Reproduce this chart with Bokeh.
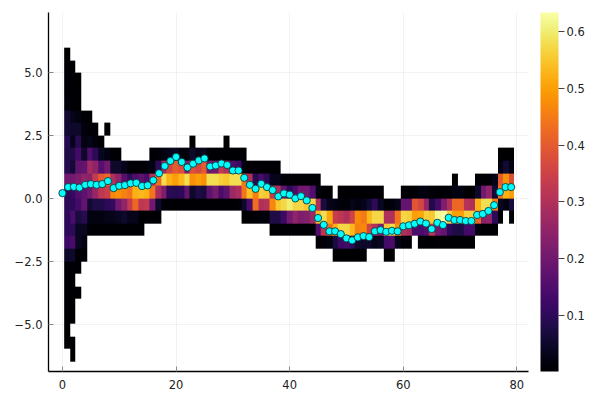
import numpy as np
from bokeh.plotting import figure
from bokeh.models import LinearColorMapper, ColorBar, FixedTicker, Span, Range1d, BasicTickFormatter
from bokeh.palettes import Inferno256
from bokeh.embed import file_html
from bokeh.resources import INLINE

# markers at x = 0..79
marker_y = [0.21,0.45,0.46,0.43,0.54,0.57,0.54,0.57,0.69,0.41,0.50,0.53,0.60,0.62,0.49,0.52,0.72,1.00,1.29,1.49,
            1.65,1.45,1.23,1.38,1.51,1.59,1.27,1.31,1.39,1.33,1.11,1.11,0.82,0.54,0.38,0.58,0.45,0.33,0.08,0.20,
            0.15,0.00,0.09,-0.08,-0.38,-0.78,-1.05,-1.31,-1.31,-1.42,-1.59,-1.67,-1.55,-1.50,-1.54,-1.31,-1.26,-1.33,-1.29,-1.31,
            -1.11,-1.07,-1.01,-0.92,-1.00,-1.22,-0.97,-1.06,-0.77,-0.86,-0.86,-0.90,-0.90,-0.66,-0.62,-0.50,-0.27,0.25,0.45,0.45]

# density rows: (lower edge of the bin, [(first column, values), ...])
r_p55 = [(1,[.002])]
r_p50 = [(1,[.005,.003])]
r_p45 = [(1,[.01,.004,.003])]
r_p40 = [(1,[.005,.004,.003])]
r_p35 = [(1,[.015,.005,.003])]
r_p30 = [(1,[.06,.03,.02,.005,.004])]
r_p25 = [(1,[.06,.05,.05,.015,.01,.008]),(8,[.003])]
r_p20 = [(1,[.09,.03,.09,.02,.03,.015,.006]),(23,[.003]),(29,[.003])]
r_p15 = [(1,[.08,.08,.13,.05,.15,.10,.04,.02,.004,.004]),
         (16,[.004,.01,.02,.03,.04,.015,.015,.05,.03,.04,.006,.006,.006,.006,.006,.006,.006]),
         (77,[.003,.003,.003])]
r_p10 = [(1,[.09,.06,.17,.18,.28,.25,.16,.20,.05,.05,.03,.01,.01,.01,.015,.02,.10,.28,.36,.40,.38,.22,.38,.36,.40,
             .20,.20,.33,.30,.14,.12,.02,.005,.005,.005,.005,.005,.005]),
         (77,[.02,.06,.02])]
r_p05 = [(1,[.20,.20,.22,.25,.24,.33,.40,.42,.30,.25,.16,.10,.15,.17,.14,.30,.43,.58,.52,.50,.53,.58,.48,.50,.48,
             .58,.58,.56,.55,.58,.58,.44,.30,.09,.14,.10,.03,.03,.01,.008,.004,.004,.004,.004,.004]),
         (69,[.003]),
         (73,[.005,.005,.005,.03,.40,.48,.38])]
r_p00 = [(1,[.10,.11,.15,.17,.20,.26,.32,.34,.47,.48,.46,.44,.52,.53,.52,.44,.29,.22,.10,.09,.10,.18,.05,.08,.07,
             .17,.21,.14,.17,.27,.29,.44,.54,.46,.56,.55,.33,.30,.18,.10,.14,.20,.20,.15,.02,.005,.005]),
         (49,[.004,.004,.004,.006,.006,.006,.004,.004]),
         (60,[.005,.005,.005,.02,.02,.01,.006,.006,.005,.02,.02,.01,.005,.05,.20,.25,.06,.44,.52,.50])]
r_m05 = [(1,[.10,.10,.13,.18,.06,.08,.08,.10,.11,.20,.25,.33,.42,.32,.33,.20,.05,.01,.008,.004,.004,.004,.004,.004,.004,
             .004,.004,.004,.004,.004,.01,.05,.14,.43,.30,.31,.47,.55,.57,.60,.57,.57,.55,.57,.30,.07,.03,.02,.015,.01,
             .03,.02,.03,.06,.10,.04,.01,.015,.03,.18,.18,.39,.36,.26,.08,.13,.22,.30,.42,.42,.31,.30,.52,.58,.58,.46,.04,.02,.07])]
r_m10 = [(1,[.10,.14,.07,.09,.02,.02,.02,.03,.03,.04,.05,.03,.03,.005,.005,.005,.005]),
         (32,[.003,.003,.01,.012,.012,.08,.08,.12,.20,.25,.22,.23,.27,.53,.58,.51,.34,.32,.30,.35,.47,.45,.53,.57,.57,
              .30,.30,.44,.57,.56,.50,.51,.56,.55,.62,.63,.56,.50,.50,.56,.56,.42,.24,.25,.10,.004]),
         (79,[.004])]
r_m15 = [(1,[.10,.10,.04,.04,.005,.005,.005,.005,.005,.005,.005,.005,.005,.005]),
         (37,[.004,.004,.004,.004,.004,.004,.004,.004,.15,.32,.43,.52,.57,.57,.53,.46,.47,.35,.30,.22,.55,.58,.48,.30,.28,
              .14,.14,.16,.32,.20,.18,.10,.08,.08,.13,.13,.02,.005,.005,.005])]
r_m20 = [(1,[.12,.14,.04,.02]),
         (45,[.005,.01,.02,.07,.12,.13,.10,.05,.05,.05,.03,.04,.13,.14,.03,.01,.01]),
         (63,[.006,.006,.006,.008,.006,.006,.006,.006,.006,.006])]
r_m25 = [(1,[.05,.05,.005,.005]),(48,[.003,.003,.003,.003,.003,.003]),(57,[.003,.003])]
r_m30 = [(1,[.01,.01,.004])]
r_m35 = [(1,[.005,.004])]
r_m40 = [(1,[.004,.004,.003])]
r_m45 = [(1,[.004,.003])]
r_m50 = [(1,[.003,.003])]
r_m55 = [(1,[.003])]
r_m60 = [(1,[.003,.003])]
r_m65 = [(2,[.003])]

rows_top_down = [r_p55,r_p50,r_p45,r_p40,r_p35,r_p30,r_p25,r_p20,r_p15,r_p10,r_p05,r_p00,
                 r_m05,r_m10,r_m15,r_m20,r_m25,r_m30,r_m35,r_m40,r_m45,r_m50,r_m55,r_m60,r_m65]

y_bottom, y_top = -6.5, 6.0
x_left, x_right = 0.3, 79.5
n_cols = 79

grid = np.full((len(rows_top_down), n_cols), np.nan)
for i, row in enumerate(rows_top_down):
    for start, vals in row:
        grid[len(rows_top_down)-1-i, start-1:start-1+len(vals)] = vals

low, high = 0.0014, 0.6335
mapper = LinearColorMapper(palette=Inferno256, low=low, high=high, nan_color=(0, 0, 0, 0))

p = figure(output_backend="svg", toolbar_location=None,
           frame_width=480, frame_height=359,
           x_range=Range1d(-2.46, 82.05), y_range=Range1d(-6.89, 7.40),
           min_border_left=48, min_border_top=12, min_border_bottom=25, min_border_right=70,
           background_fill_color="white", border_fill_color="white")
p.outline_line_color = None

p.image(image=[grid], x=x_left, y=y_bottom, dw=x_right-x_left, dh=y_top-y_bottom, color_mapper=mapper)
p.scatter(list(range(len(marker_y))), marker_y, size=7.2, fill_color="#00ffff",
          line_color="#0d3b3f", line_width=0.9)

x_ticks = [0, 20, 40, 60, 80]
y_ticks = [-5, -2.5, 0, 2.5, 5]
p.xaxis.ticker = FixedTicker(ticks=x_ticks)
p.yaxis.ticker = FixedTicker(ticks=y_ticks)
p.yaxis.major_label_overrides = {-5: "\u22125.0", -2.5: "\u22122.5", 0: "0.0", 2.5: "2.5", 5: "5.0"}
for ax in (p.xaxis[0], p.yaxis[0]):
    ax.axis_line_color = "black"
    ax.axis_line_width = 1.3
    ax.major_tick_in = 5
    ax.major_tick_out = 0
    ax.minor_tick_in = 0
    ax.minor_tick_out = 0
    ax.major_tick_line_color = "#8a8a8a"
    ax.major_tick_line_width = 1
    ax.major_label_text_font = "DejaVu Sans"
    ax.major_label_text_font_size = "11.5px"
    ax.major_label_text_color = "#222222"
p.xaxis.major_label_standoff = 8
p.yaxis.major_label_standoff = 6
p.xgrid.ticker = FixedTicker(ticks=x_ticks)
p.ygrid.ticker = FixedTicker(ticks=y_ticks)
p.grid.grid_line_color = "black"
p.grid.grid_line_alpha = 0.05
p.grid.grid_line_width = 1

cb = ColorBar(color_mapper=mapper, ticker=FixedTicker(ticks=[.1,.2,.3,.4,.5,.6]),
              width=18, height=359, padding=0, margin=0, bar_line_color=None,
              location=(492, 0),
              major_tick_in=0, major_tick_out=6, major_tick_line_color="#444444",
              minor_tick_line_color=None, label_standoff=2,
              major_label_text_font="DejaVu Sans", major_label_text_font_size="11.5px",
              major_label_text_color="#222222", background_fill_alpha=0,
              formatter=BasicTickFormatter(), border_line_color=None)
p.add_layout(cb)
p.add_layout(Span(location=558, location_units="screen", dimension="height",
                  line_color="#555555", line_width=1))

open("out.html", "w").write(file_html(p, INLINE))
